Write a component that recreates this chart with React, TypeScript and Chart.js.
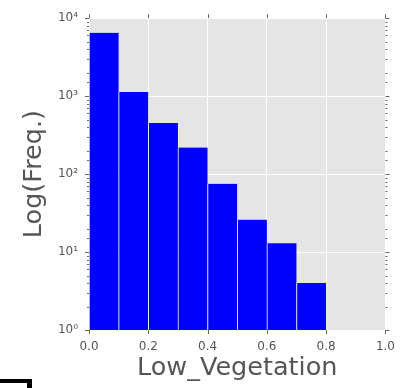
import React, { useEffect, useRef } from 'react';
import { Chart, registerables } from 'chart.js';

Chart.register(...registerables);

// Histogram bins (left edges) and counts
const binStarts = [0.0, 0.1, 0.2, 0.3, 0.4, 0.5, 0.6, 0.7];
const binWidth = 0.1;
const counts = [6500, 1130, 452, 219, 75, 26, 13, 4];

// Axis settings
const xMin = 0;
const xMax = 1;
const xStep = 0.2;
const yMin = 1;
const yMax = 10000;
const superscripts = ['⁰', '¹', '²', '³', '⁴', '⁵'];

const xTitle = 'Low_Vegetation';
const yTitle = 'Log(Freq.)';

const FONT = 'DejaVu Sans';
const TEXT = '#555555';

const isPow10 = (v: number) => {
  const l = Math.log10(v);
  return Math.abs(l - Math.round(l)) < 1e-9;
};

const bgPlugin = {
  id: 'plotBg',
  beforeDraw(chart: any) {
    const { ctx, chartArea: a } = chart;
    ctx.save();
    ctx.fillStyle = '#E5E5E5';
    ctx.fillRect(a.left, a.top, a.right - a.left, a.bottom - a.top);
    ctx.restore();
  },
};

const tickPlugin = {
  id: 'tickMarks',
  afterDraw(chart: any) {
    const { ctx, chartArea: a, scales } = chart;
    const xs = scales.x;
    const ys = scales.y;
    ctx.save();
    ctx.strokeStyle = '#666666';
    ctx.lineWidth = 1;
    ctx.beginPath();
    xs.ticks.forEach((t: any) => {
      const px = Math.round(xs.getPixelForValue(t.value)) + 0.5;
      ctx.moveTo(px, a.bottom);
      ctx.lineTo(px, a.bottom + 4);
      ctx.moveTo(px, a.top);
      ctx.lineTo(px, a.top - 4);
    });
    ys.ticks.forEach((t: any) => {
      const len = isPow10(t.value) ? 4 : 2;
      const py = Math.round(ys.getPixelForValue(t.value)) + 0.5;
      ctx.moveTo(a.left, py);
      ctx.lineTo(a.left - len, py);
      ctx.moveTo(a.right, py);
      ctx.lineTo(a.right + len, py);
    });
    ctx.stroke();
    ctx.restore();
  },
};

export default function App() {
  const ref = useRef<HTMLCanvasElement>(null);

  useEffect(() => {
    if (!ref.current) return;
    const chart = new Chart(ref.current, {
      type: 'bar',
      data: {
        datasets: [
          {
            data: binStarts.map((s, i) => ({ x: s + binWidth / 2, y: counts[i] })),
            backgroundColor: '#0000FF',
            borderColor: 'rgba(255,255,255,0.7)',
            borderWidth: { left: 1, right: 0, top: 0, bottom: 0 },
            barPercentage: 1,
            categoryPercentage: 1,
          } as any,
        ],
      },
      options: {
        responsive: false,
        animation: false,
        layout: { padding: { top: 15, right: 18, left: 0, bottom: 0 } },
        plugins: {
          legend: { display: false },
          tooltip: { enabled: false },
        },
        scales: {
          x: {
            type: 'linear',
            min: xMin,
            max: xMax,
            offset: false,
            grid: { color: '#FFFFFF', drawTicks: false, offset: false },
            border: { display: false },
            ticks: {
              stepSize: xStep,
              padding: 10,
              color: TEXT,
              font: { family: FONT, size: 12 },
              callback: (v: any) => Number(v).toFixed(1),
            },
            title: {
              display: true,
              text: xTitle,
              color: TEXT,
              font: { family: FONT, size: 25.5 },
              padding: { top: 0, bottom: 4.5 },
            },
            afterFit: (s: any) => {
              s.height = 58;
            },
          },
          y: {
            type: 'logarithmic',
            min: yMin,
            max: yMax,
            grid: {
              drawTicks: false,
              color: (c: any) => (c.tick && isPow10(c.tick.value) ? '#FFFFFF' : 'rgba(0,0,0,0)'),
            },
            border: { display: false },
            ticks: {
              autoSkip: false,
              padding: 11,
              color: TEXT,
              font: { family: FONT, size: 12 },
              callback: (v: any) => {
                const n = Number(v);
                if (!isPow10(n)) return '';
                return '10' + superscripts[Math.round(Math.log10(n))];
              },
            },
            title: {
              display: true,
              text: yTitle,
              color: TEXT,
              font: { family: FONT, size: 25.5 },
              padding: { top: 19.4, bottom: 0 },
            },
            afterFit: (s: any) => {
              s.width = 89;
            },
          },
        },
      } as any,
      plugins: [bgPlugin, tickPlugin],
    });
    return () => chart.destroy();
  }, []);

  return (
    <div
      style={{
        position: 'fixed',
        left: 0,
        top: 0,
        width: 405,
        height: 388,
        overflow: 'hidden',
        background: '#FFFFFF',
      }}
    >
      <canvas ref={ref} width={405} height={388} style={{ display: 'block' }} />
      <div
        style={{
          position: 'absolute',
          left: -4,
          top: 379,
          width: 27,
          height: 40,
          borderTop: '4px solid #000',
          borderRight: '5px solid #000',
          borderLeft: '4px solid #000',
        }}
      />
    </div>
  );
}
